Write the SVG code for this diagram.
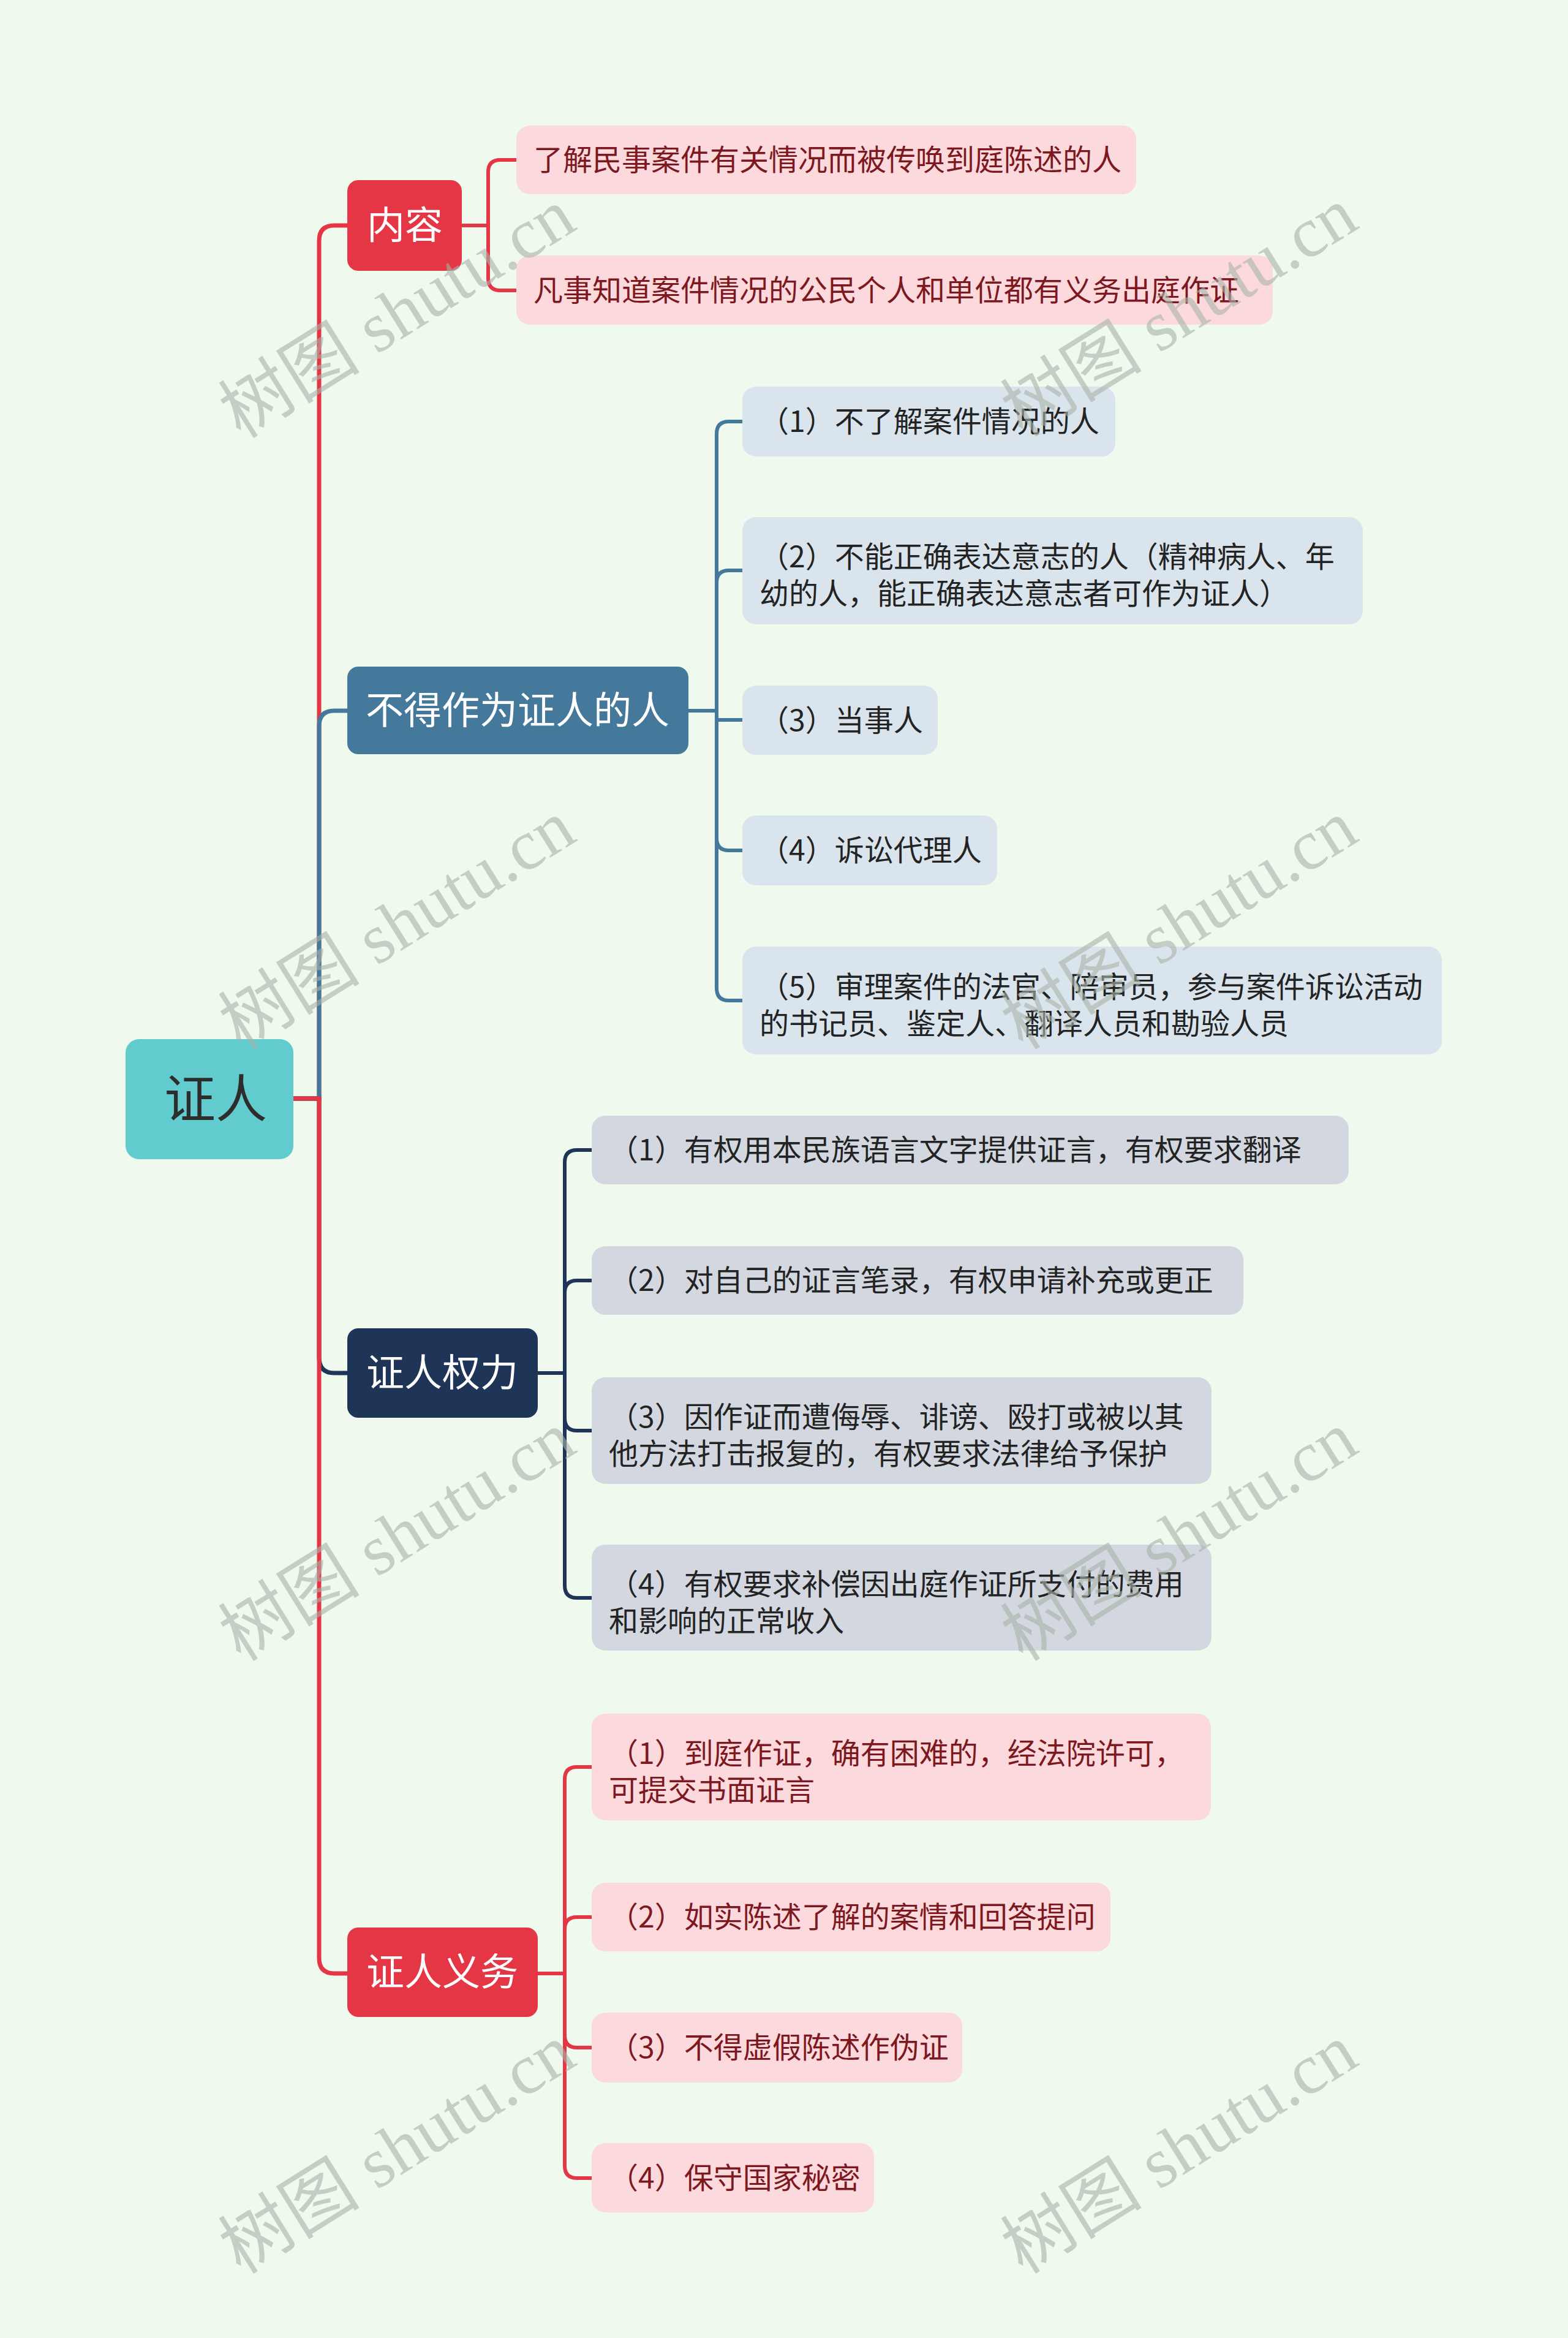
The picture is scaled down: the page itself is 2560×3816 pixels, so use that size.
<svg xmlns="http://www.w3.org/2000/svg" width="2560" height="3816" viewBox="0 0 2560 3816">
<defs>
<style>
.cn{font-family:"Noto Sans CJK SC","Noto Sans",sans-serif;}
.f48{font-size:48px;}
.f62{font-size:62px;}
.f84{font-size:84px;}
.mid{text-anchor:middle;}
.pink{fill:#FBD9DD;}
.pinkt{fill:#7E1820;}
.blue{fill:#DAE4EC;}
.gray{fill:#D3D8E0;}
.dark{fill:#232323;}
.red{fill:#E43644;}
.wt{fill:#FFFFFF;}
.cr{fill:none;stroke:#E43644;}
.cb{fill:none;stroke:#45799C;}
.cn2{fill:none;stroke:#1E3557;}
.main{stroke-width:7;}
.sub{stroke-width:6;}
.wm{font-family:"Liberation Serif","Noto Sans CJK SC",serif;font-size:116px;fill:#A9B3A9;opacity:0.6;text-anchor:middle;}
</style>
</defs>
<rect x="0" y="0" width="2560" height="3816" fill="#F0F9EE"/>

<g id="connectors">
  <path class="cr main" d="M479 1793 H521 V393 Q521 368 546 368 H567"/>
  <path class="cn2 main" d="M479 1793 H521 V2216 Q521 2241 546 2241 H567"/>
  <path class="cb main" d="M479 1793 H521 V1185 Q521 1160 546 1160 H567"/>
  <path class="cr main" d="M479 1793 H521 V3196 Q521 3221 546 3221 H567"/>

  <path class="cr sub" d="M754 368 H797 V281 Q797 261 817 261 H843"/>
  <path class="cr sub" d="M797 368 V454 Q797 474 817 474 H843"/>

  <path class="cb sub" d="M1124 1160 H1170 V708 Q1170 688 1190 688 H1212"/>
  <path class="cb sub" d="M1170 1160 V951 Q1170 931 1190 931 H1212"/>
  <path class="cb sub" d="M1170 1160 V1175 H1212"/>
  <path class="cb sub" d="M1170 1160 V1368 Q1170 1388 1190 1388 H1212"/>
  <path class="cb sub" d="M1170 1160 V1613 Q1170 1633 1190 1633 H1212"/>

  <path class="cn2 sub" d="M878 2241 H922 V1897 Q922 1877 942 1877 H966"/>
  <path class="cn2 sub" d="M922 2241 V2110 Q922 2090 942 2090 H966"/>
  <path class="cn2 sub" d="M922 2241 V2315 Q922 2335 942 2335 H966"/>
  <path class="cn2 sub" d="M922 2241 V2588 Q922 2608 942 2608 H966"/>

  <path class="cr sub" d="M878 3221 H922 V2904 Q922 2884 942 2884 H966"/>
  <path class="cr sub" d="M922 3221 V3149 Q922 3129 942 3129 H966"/>
  <path class="cr sub" d="M922 3221 V3322 Q922 3342 942 3342 H966"/>
  <path class="cr sub" d="M922 3221 V3535 Q922 3555 942 3555 H966"/>
</g>

<g id="root">
  <rect x="205" y="1696" width="274" height="196" rx="22" fill="#62CBCD"/>
  <text class="cn f84 mid" x="352" y="1824" fill="#2D2D2D">证人</text>
</g>

<g id="b-neirong">
  <rect class="red" x="567" y="294" width="187" height="148" rx="18"/>
  <text class="cn f62 mid wt" x="661" y="390">内容</text>
</g>
<g id="k1">
  <rect class="pink" x="843" y="205" width="1012" height="112" rx="22"/>
  <text class="cn f48 pinkt" x="871" y="278">了解民事案件有关情况而被传唤到庭陈述的人</text>
</g>
<g id="k2">
  <rect class="pink" x="843" y="417" width="1235" height="113" rx="22"/>
  <text class="cn f48 pinkt" x="871" y="491">凡事知道案件情况的公民个人和单位都有义务出庭作证</text>
</g>

<g id="b-bude">
  <rect x="567" y="1088" width="557" height="143" rx="18" fill="#45799C"/>
  <text class="cn f62 mid wt" x="845" y="1182">不得作为证人的人</text>
</g>
<g id="c1">
  <rect class="blue" x="1212" y="631" width="609" height="114" rx="22"/>
  <text class="cn f48 dark" x="1240" y="705">（1）不了解案件情况的人</text>
</g>
<g id="c2">
  <rect class="blue" x="1212" y="844" width="1013" height="175" rx="22"/>
  <text class="cn f48 dark" x="1240" y="926">（2）不能正确表达意志的人（精神病人、年</text>
  <text class="cn f48 dark" x="1240" y="986">幼的人，能正确表达意志者可作为证人）</text>
</g>
<g id="c3">
  <rect class="blue" x="1212" y="1119" width="319" height="113" rx="22"/>
  <text class="cn f48 dark" x="1240" y="1193">（3）当事人</text>
</g>
<g id="c4">
  <rect class="blue" x="1212" y="1331" width="416" height="114" rx="22"/>
  <text class="cn f48 dark" x="1240" y="1405">（4）诉讼代理人</text>
</g>
<g id="c5">
  <rect class="blue" x="1212" y="1545" width="1142" height="176" rx="22"/>
  <text class="cn f48 dark" x="1240" y="1628">（5）审理案件的法官、陪审员，参与案件诉讼活动</text>
  <text class="cn f48 dark" x="1240" y="1688">的书记员、鉴定人、翻译人员和勘验人员</text>
</g>

<g id="b-quanli">
  <rect x="567" y="2168" width="311" height="146" rx="18" fill="#1E3557"/>
  <text class="cn f62 mid wt" x="722" y="2263">证人权力</text>
</g>
<g id="r1">
  <rect class="gray" x="966" y="1821" width="1236" height="112" rx="22"/>
  <text class="cn f48 dark" x="994" y="1894">（1）有权用本民族语言文字提供证言，有权要求翻译</text>
</g>
<g id="r2">
  <rect class="gray" x="966" y="2034" width="1064" height="112" rx="22"/>
  <text class="cn f48 dark" x="994" y="2107">（2）对自己的证言笔录，有权申请补充或更正</text>
</g>
<g id="r3">
  <rect class="gray" x="966" y="2248" width="1012" height="174" rx="22"/>
  <text class="cn f48 dark" x="994" y="2330">（3）因作证而遭侮辱、诽谤、殴打或被以其</text>
  <text class="cn f48 dark" x="994" y="2390">他方法打击报复的，有权要求法律给予保护</text>
</g>
<g id="r4">
  <rect class="gray" x="966" y="2521" width="1012" height="173" rx="22"/>
  <text class="cn f48 dark" x="994" y="2603">（4）有权要求补偿因出庭作证所支付的费用</text>
  <text class="cn f48 dark" x="994" y="2663">和影响的正常收入</text>
</g>

<g id="b-yiwu">
  <rect class="red" x="567" y="3146" width="311" height="146" rx="18"/>
  <text class="cn f62 mid wt" x="722" y="3241">证人义务</text>
</g>
<g id="d1">
  <rect class="pink" x="966" y="2797" width="1011" height="174" rx="22"/>
  <text class="cn f48 pinkt" x="994" y="2879">（1）到庭作证，确有困难的，经法院许可，</text>
  <text class="cn f48 pinkt" x="994" y="2939">可提交书面证言</text>
</g>
<g id="d2">
  <rect class="pink" x="966" y="3073" width="847" height="112" rx="22"/>
  <text class="cn f48 pinkt" x="994" y="3146">（2）如实陈述了解的案情和回答提问</text>
</g>
<g id="d3">
  <rect class="pink" x="966" y="3285" width="605" height="114" rx="22"/>
  <text class="cn f48 pinkt" x="994" y="3359">（3）不得虚假陈述作伪证</text>
</g>
<g id="d4">
  <rect class="pink" x="966" y="3498" width="461" height="113" rx="22"/>
  <text class="cn f48 pinkt" x="994" y="3572">（4）保守国家秘密</text>
</g>

<g id="watermarks">
  <text class="wm" transform="translate(648 511) rotate(-32)" y="40">树图 shutu.cn</text>
  <text class="wm" transform="translate(1925 509) rotate(-32)" y="40">树图 shutu.cn</text>
  <text class="wm" transform="translate(648 1509) rotate(-32)" y="40">树图 shutu.cn</text>
  <text class="wm" transform="translate(1925 1509) rotate(-32)" y="40">树图 shutu.cn</text>
  <text class="wm" transform="translate(648 2507) rotate(-32)" y="40">树图 shutu.cn</text>
  <text class="wm" transform="translate(1925 2507) rotate(-32)" y="40">树图 shutu.cn</text>
  <text class="wm" transform="translate(648 3507) rotate(-32)" y="40">树图 shutu.cn</text>
  <text class="wm" transform="translate(1925 3507) rotate(-32)" y="40">树图 shutu.cn</text>
</g>
</svg>
